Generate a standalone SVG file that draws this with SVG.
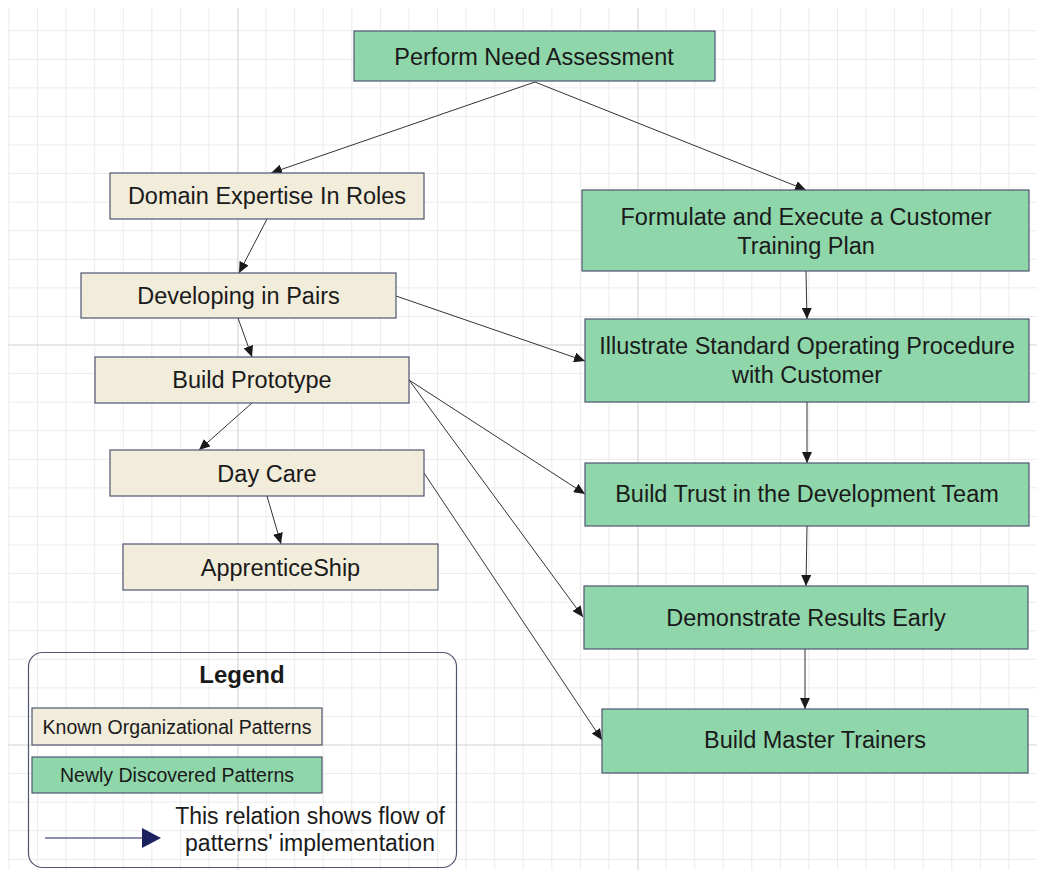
<svg xmlns="http://www.w3.org/2000/svg" width="1037" height="870" viewBox="0 0 1037 870">
<style>
.node rect{stroke:#4e5570;stroke-width:1.2}
.known{fill:#f2ecdb}
.newp{fill:#8fd6aa}
text{font-family:"Liberation Sans",Arial,sans-serif;fill:#1a1a1a}
.t{font-size:23.5px;text-anchor:middle}
.lg{font-size:19.5px;text-anchor:middle}
.edge{stroke:#333;stroke-width:1;fill:none;marker-end:url(#ah)}
</style>
<defs>
<pattern id="grid" patternUnits="userSpaceOnUse" x="8.5" y="1.66" width="28.57" height="28.57">
<path d="M0,0.5H28.57M0.5,0V28.57" stroke="#ebebeb" stroke-width="1" fill="none"/>
</pattern>
<marker id="ah" markerUnits="userSpaceOnUse" markerWidth="11" markerHeight="10" refX="11" refY="5" orient="auto">
<path d="M0,0L11,5L0,10z" fill="#1a1a1a"/>
</marker>
</defs>
<rect width="1037" height="870" fill="#fff"/>
<g id="grid-bg">
<rect x="8" y="8" width="1029" height="862" fill="url(#grid)"/>
<path d="M238,8V870M638,8V870M8,345H1037M8,745H1037" stroke="#dcdcdc" stroke-width="1.2"/>
</g>
<g id="connectors">
<line class="edge" x1="535" y1="82" x2="271" y2="173"/>
<line class="edge" x1="535" y1="82" x2="806" y2="190"/>
<line class="edge" x1="267" y1="219" x2="239" y2="273"/>
<line class="edge" x1="238" y1="318" x2="252" y2="357"/>
<line class="edge" x1="252" y1="403" x2="199" y2="450"/>
<line class="edge" x1="267" y1="496" x2="281" y2="544"/>
<line class="edge" x1="396" y1="296" x2="585" y2="361"/>
<line class="edge" x1="409" y1="380" x2="585" y2="494"/>
<line class="edge" x1="409" y1="380" x2="583" y2="617"/>
<line class="edge" x1="424" y1="473" x2="602" y2="740"/>
<line class="edge" x1="806" y1="271" x2="807" y2="319"/>
<line class="edge" x1="807" y1="402" x2="807" y2="463"/>
<line class="edge" x1="807" y1="526" x2="806" y2="586"/>
<line class="edge" x1="805" y1="649" x2="805" y2="709"/>
</g>
<g id="n-perform" class="node"><rect class="newp" x="354" y="31" width="361" height="50"/><text class="t" x="534" y="65">Perform Need Assessment</text></g>
<g id="n-domain" class="node"><rect class="known" x="110" y="173" width="314" height="46"/><text class="t" x="267" y="204">Domain Expertise In Roles</text></g>
<g id="n-pairs" class="node"><rect class="known" x="81" y="273" width="315" height="45"/><text class="t" x="238.5" y="304">Developing in Pairs</text></g>
<g id="n-proto" class="node"><rect class="known" x="95" y="357" width="314" height="46"/><text class="t" x="252" y="388">Build Prototype</text></g>
<g id="n-daycare" class="node"><rect class="known" x="110" y="450" width="314" height="46"/><text class="t" x="267" y="482">Day Care</text></g>
<g id="n-appr" class="node"><rect class="known" x="123" y="544" width="315" height="46"/><text class="t" x="280.5" y="576">ApprenticeShip</text></g>
<g id="n-formulate" class="node"><rect class="newp" x="582" y="190" width="447" height="81"/><text class="t" x="806" y="225">Formulate and Execute a Customer</text><text class="t" x="806" y="254">Training Plan</text></g>
<g id="n-illustrate" class="node"><rect class="newp" x="585" y="319" width="444" height="83"/><text class="t" x="807" y="354">Illustrate Standard Operating Procedure</text><text class="t" x="807" y="383">with Customer</text></g>
<g id="n-trust" class="node"><rect class="newp" x="585" y="463" width="444" height="63"/><text class="t" x="807" y="502">Build Trust in the Development Team</text></g>
<g id="n-demo" class="node"><rect class="newp" x="584" y="586" width="444" height="63"/><text class="t" x="806" y="626">Demonstrate Results Early</text></g>
<g id="n-master" class="node"><rect class="newp" x="602" y="709" width="426" height="64"/><text class="t" x="815" y="748">Build Master Trainers</text></g>
<g id="legend">
<rect x="28.5" y="652.5" width="428" height="215" rx="14" fill="none" stroke="#4e5570" stroke-width="1.2"/>
<text x="242" y="683" style="font-size:24px;font-weight:bold;text-anchor:middle">Legend</text>
<g class="node"><rect class="known" x="32" y="708" width="290" height="37"/></g>
<text class="lg" x="177" y="734">Known Organizational Patterns</text>
<g class="node"><rect class="newp" x="32" y="757" width="290" height="36"/></g>
<text class="lg" x="177" y="782">Newly Discovered Patterns</text>
<line x1="45" y1="838" x2="143" y2="838" stroke="#1c2260" stroke-width="1.2"/>
<path d="M142,828L161,838L142,848z" fill="#1c2260"/>
<text x="310" y="824" style="font-size:23px;text-anchor:middle">This relation shows flow of</text>
<text x="310" y="851" style="font-size:23px;text-anchor:middle">patterns' implementation</text>
</g>
</svg>
